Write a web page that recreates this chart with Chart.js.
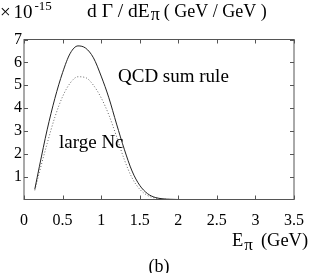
<!DOCTYPE html>
<html>
<head>
<meta charset="utf-8">
<script src="https://cdn.jsdelivr.net/npm/chart.js@4"></script>
<style>
  html, body { margin: 0; padding: 0; background: #fff; }
  #wrap { width: 316px; height: 273px; }
</style>
</head>
<body>
<div id="wrap"><canvas id="myChart" width="316" height="273"></canvas></div>
<script>
// E_pi (GeV)
const energies = [0.14, 0.2, 0.3, 0.4, 0.5, 0.6, 0.7, 0.8, 0.9, 1.0, 1.1, 1.2, 1.3, 1.4, 1.5, 1.6, 1.7, 1.8, 1.9, 2.0, 2.2, 2.4, 2.6, 2.8];
// dGamma/dE, units of 1e-15
const sumRule = [0.45, 1.45, 3.05, 4.42, 5.55, 6.4, 6.72, 6.62, 6.2, 5.4, 4.45, 3.3, 2.2, 1.25, 0.62, 0.26, 0.09, 0.03, 0.01, 0, 0, 0, 0, 0];
const largeNc = [0.4, 1.2, 2.45, 3.6, 4.5, 5.1, 5.37, 5.33, 5.0, 4.45, 3.7, 2.75, 1.75, 0.95, 0.45, 0.18, 0.06, 0.02, 0, 0, 0, 0, 0, 0];
const xTicks = [0, 0.5, 1, 1.5, 2, 2.5, 3, 3.5];
const yTicks = [1, 2, 3, 4, 5, 6, 7];

const serif = '"Liberation Serif", "Times New Roman", serif';
const axisColor = "#555";

function points(ys) {
    return energies.map((x, i) => ({ x: x, y: ys[i] }));
}

// writes pieces one after another: [text, size, dy]
function writeRun(ctx, x, y, parts) {
    parts.forEach(p => {
        ctx.font = p[1] + "px " + serif;
        ctx.fillText(p[0], x, y + (p[2] || 0));
        x += ctx.measureText(p[0]).width + (p[3] || 0);
    });
}

// frame, inward ticks and the loose text
const decor = {
    id: "decor",
    afterDraw(chart) {
        const ctx = chart.ctx;
        const a = chart.chartArea;
        const xs = chart.scales.x;
        const ys = chart.scales.y;
        ctx.save();
        ctx.strokeStyle = axisColor;
        ctx.lineWidth = 1;
        ctx.strokeRect(a.left, a.top, a.right - a.left, a.bottom - a.top);
        ctx.beginPath();
        xTicks.forEach(v => {
            const px = Math.round(xs.getPixelForValue(v)) + 0.5;
            ctx.moveTo(px, a.bottom); ctx.lineTo(px, a.bottom - 4);
            ctx.moveTo(px, a.top); ctx.lineTo(px, a.top + 4);
        });
        yTicks.forEach(v => {
            const py = Math.round(ys.getPixelForValue(v)) + 0.5;
            ctx.moveTo(a.left, py); ctx.lineTo(a.left + 4, py);
            ctx.moveTo(a.right, py); ctx.lineTo(a.right - 4, py);
        });
        ctx.stroke();

        ctx.fillStyle = "#000";
        ctx.textBaseline = "alphabetic";
        ctx.textAlign = "left";
        writeRun(ctx, 0, 18, [["\u00d7 ", 19, 0, -2], ["10", 19, 0, 2], ["-15", 13, -8]]);
        writeRun(ctx, 87, 17, [["d \u0393 / dE", 19.5, 0, 1], ["\u03c0", 18, 3, 4], ["( GeV / GeV )", 18]]);

        ctx.font = "19px " + serif;
        ctx.fillText("QCD sum rule", 118, 82);
        ctx.fillText("large Nc", 59, 148);

        writeRun(ctx, 232, 246, [["E", 18.5, 0, 1], ["\u03c0", 17, 4, 8], ["(GeV)", 18.5]]);

        ctx.font = "18px " + serif;
        ctx.textAlign = "center";
        ctx.fillText("(b)", 159, 272);
        ctx.restore();
    }
};

let chart;

function initChart() {
    const ctx = document.getElementById("myChart").getContext("2d");
    chart = new Chart(ctx, {
        type: "scatter",
        data: {
            datasets: [{
                label: "QCD sum rule",
                data: points(sumRule),
                showLine: true,
                borderColor: "#222",
                borderWidth: 1,
                pointRadius: 0,
                cubicInterpolationMode: "monotone"
            }, {
                label: "large Nc",
                data: points(largeNc),
                showLine: true,
                borderColor: "#666",
                borderWidth: 1,
                borderDash: [1, 2],
                pointRadius: 0,
                cubicInterpolationMode: "monotone"
            }]
        },
        options: {
            responsive: false,
            animation: false,
            layout: { padding: { top: 39.5, right: 9, left: 0, bottom: 0 } },
            plugins: {
                legend: { display: false },
                tooltip: { enabled: false }
            },
            scales: {
                x: {
                    type: "linear",
                    min: 0,
                    max: 3.5,
                    afterBuildTicks: s => { s.ticks = xTicks.map(v => ({ value: v })); },
                    afterFit: s => { s.height = 73.5; },
                    grid: { display: false, drawTicks: false },
                    border: { display: false },
                    ticks: {
                        padding: 12,
                        color: "#000",
                        maxRotation: 0,
                        font: { family: serif, size: 16 },
                        callback: v => String(v)
                    }
                },
                y: {
                    min: 0,
                    max: 7,
                    afterBuildTicks: s => { s.ticks = yTicks.map(v => ({ value: v })); },
                    afterFit: s => { s.width = 24; },
                    grid: { display: false, drawTicks: false },
                    border: { display: false },
                    ticks: {
                        padding: 2,
                        color: "#000",
                        font: { family: serif, size: 16 },
                        callback: v => String(v)
                    }
                }
            }
        },
        plugins: [decor]
    });
}

document.addEventListener("DOMContentLoaded", function() {
    initChart();
});
</script>
</body>
</html>
